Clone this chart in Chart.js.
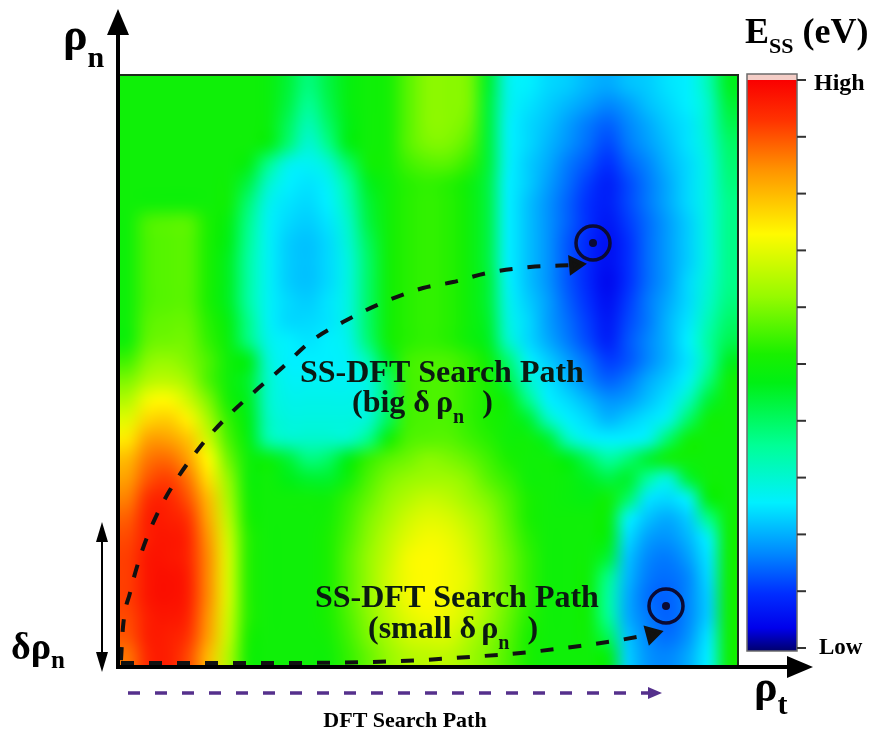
<!DOCTYPE html>
<html>
<head>
<meta charset="utf-8">
<script src="https://cdn.jsdelivr.net/npm/chart.js@4.4.1/dist/chart.umd.min.js"></script>
<style>
  html, body { margin: 0; padding: 0; background: #fff; }
</style>
</head>
<body>
<canvas id="essChart" width="871" height="732"></canvas>
<script>
// E_SS map, in % of the Low..High range.
// One row per grid line, top (large rho_n) to bottom, columns left to right along rho_t.
const nCols = 31, nRows = 30;
const essGrid = [
  [50,50,50,50,50,50,50,49,44,38,43,48,50,51,57,61,61,60,45,28,26,24,23,21,20,22,23,25,26,33,46],
  [50,50,50,50,50,50,50,49,43,36,42,48,50,51,57,61,61,60,44,28,25,23,21,19,17,19,22,24,26,31,44],
  [50,50,50,50,50,50,50,49,41,33,40,47,50,51,57,61,61,59,44,27,24,22,19,16,14,17,20,23,25,31,42],
  [50,50,50,50,50,50,50,48,39,30,37,47,50,51,57,60,60,57,44,27,24,21,18,15,12,16,19,22,25,30,40],
  [50,50,50,50,50,50,48,37,28,27,30,40,50,51,55,57,57,54,44,27,23,20,16,13,10,14,17,21,24,29,39],
  [50,50,50,50,50,50,43,31,26,25,27,35,46,50,53,54,53,50,43,26,23,19,15,11, 8,12,16,20,24,29,38],
  [50,50,50,50,50,50,39,28,25,24,26,33,44,50,53,54,53,50,43,26,22,18,14,10, 8,12,16,20,24,29,37],
  [50,56,57,57,52,48,37,27,24,23,25,31,43,50,53,54,53,50,43,26,22,18,14,10, 7,11,15,19,23,29,37],
  [50,56,57,57,52,47,36,27,23,22,24,30,41,50,53,54,53,50,43,26,22,18,13, 9, 6,10,15,19,23,29,37],
  [50,56,57,57,52,46,35,27,23,22,24,29,40,50,53,54,53,50,43,26,22,18,13, 9, 6,10,15,19,23,29,37],
  [50,56,57,57,52,46,35,27,23,22,24,29,40,50,53,54,53,50,44,27,22,18,13, 9, 5,10,15,19,24,30,37],
  [50,56,57,57,52,46,35,27,24,23,25,29,40,50,53,54,53,50,44,28,23,19,14,10, 6,11,16,20,24,31,38],
  [50,57,58,58,53,48,37,27,24,24,25,29,40,50,53,54,53,50,45,29,24,19,15,11, 7,12,16,21,25,33,40],
  [50,58,59,59,54,49,38,28,26,25,26,28,39,50,53,54,53,50,46,31,24,20,16,12, 8,13,17,21,26,35,42],
  [55,61,62,60,56,50,47,30,26,26,26,27,33,45,55,56,56,54,50,39,27,23,19,15,11,13,17,21,25,34,46],
  [60,65,66,63,56,50,45,31,27,27,27,27,29,40,55,56,56,54,52,43,31,25,21,17,14,16,20,23,27,38,50],
  [65,72,73,68,60,51,46,31,28,28,28,28,29,40,55,56,56,54,52,49,37,26,24,21,18,19,22,25,32,44,50],
  [70,77,78,74,64,54,47,32,29,29,29,29,30,41,55,56,56,54,52,50,45,32,26,24,21,23,25,28,40,50,50],
  [75,83,83,79,68,56,48,34,31,31,31,31,37,50,56,57,57,55,53,50,50,45,32,27,26,26,28,40,50,50,50],
  [80,87,88,83,73,59,50,49,44,38,40,47,54,57,59,61,60,58,55,52,50,50,47,41,35,39,45,50,50,50,50],
  [83,90,92,87,76,62,50,50,47,45,45,50,56,60,62,63,63,61,57,54,50,50,49,46,43,45,35,29,44,50,50],
  [86,94,95,90,80,64,51,50,50,50,50,54,58,62,65,67,66,63,60,56,52,50,49,48,50,40,25,24,27,48,50],
  [89,96,96,93,82,66,52,50,50,50,51,55,60,64,68,70,69,66,62,57,52,50,50,50,49,27,22,20,23,37,50],
  [91,96,97,95,84,68,53,50,50,50,52,56,61,66,70,72,71,68,63,58,53,50,50,50,48,24,19,18,21,27,50],
  [92,97,97,95,85,69,53,50,50,50,52,57,62,67,72,73,72,69,64,59,54,50,50,50,44,22,17,16,19,25,50],
  [92,97,98,96,85,69,53,50,50,50,52,57,62,68,72,73,72,70,64,59,54,50,50,50,37,21,16,15,17,24,50],
  [92,97,98,96,85,69,53,50,50,50,52,57,62,67,72,73,72,69,64,59,54,50,50,50,35,20,15,14,17,23,50],
  [91,96,97,95,84,68,53,50,50,50,52,56,61,66,70,72,71,68,63,58,53,50,50,50,36,20,16,14,17,23,50],
  [90,96,96,93,83,67,52,50,50,50,51,55,60,64,68,69,69,65,61,57,52,50,50,50,41,22,17,15,18,25,50],
  [87,95,96,91,80,65,51,50,50,50,50,54,58,62,65,66,66,63,60,56,52,50,50,50,48,23,18,17,20,26,50]
];

// colour scale, Low (0) to High (1)
const colorStops = [
  [0.00, [0, 0, 110]],
  [0.04, [0, 0, 235]],
  [0.10, [0, 45, 255]],
  [0.17, [0, 135, 255]],
  [0.26, [0, 240, 255]],
  [0.36, [0, 255, 150]],
  [0.47, [0, 240, 20]],
  [0.52, [25, 240, 0]],
  [0.62, [150, 250, 0]],
  [0.73, [255, 250, 0]],
  [0.84, [255, 150, 0]],
  [0.93, [255, 50, 0]],
  [1.00, [250, 0, 0]]
];

// search paths, in grid units (rho_t, rho_n)
const bigPathX = [0.15, 0.25, 0.6, 1.1, 1.75, 2.6, 4.1, 5.45, 6.75, 8.25, 9.6, 11.25, 12.95, 15.25, 16.75, 18.45, 20.6, 22.85];
const bigPathY = [0.30, 1.98, 3.71, 5.53, 7.26, 8.93, 11.12, 12.64, 13.86, 15.18, 16.45, 17.46, 18.32, 19.19, 19.49, 19.95, 20.25, 20.36];
const smallPathX = [0.15, 6.6, 14.1, 17.6, 20.6, 23.1, 25.1, 26.7];
const smallPathY = [0.15, 0.15, 0.25, 0.46, 0.71, 1.02, 1.32, 1.62];
const dftPathX = [0.5, 26.6];
const dftPathY = [-1.37, -1.37];
const minimaX = [23.75, 27.4];
const minimaY = [21.47, 3.05];

const SERIF = '"Liberation Serif", "Times New Roman", serif';
const TEXT_COLOR = '#0b1a12';
const DFT_COLOR = '#55308c';

function colorAt(v) {
  v = Math.max(0, Math.min(1, v));
  for (let i = 1; i < colorStops.length; i++) {
    const [p1, c1] = colorStops[i];
    if (v <= p1) {
      const [p0, c0] = colorStops[i - 1];
      const f = (v - p0) / (p1 - p0);
      return c0.map((a, k) => Math.round(a + (c1[k] - a) * f));
    }
  }
  return colorStops[colorStops.length - 1][1];
}

const toPoints = (xs, ys) => xs.map((v, i) => ({ x: v, y: ys[i] }));

// draws the grid as an image stretched over the scale range
const heatmapPlugin = {
  id: 'essHeatmap',
  beforeDatasetsDraw(chart) {
    const { ctx, scales: { x, y } } = chart;
    const off = document.createElement('canvas');
    off.width = nCols;
    off.height = nRows;
    const octx = off.getContext('2d');
    const img = octx.createImageData(nCols, nRows);
    essGrid.forEach((row, r) => row.forEach((v, c) => {
      const rgb = colorAt(v / 100);
      const i = (r * nCols + c) * 4;
      img.data[i] = rgb[0];
      img.data[i + 1] = rgb[1];
      img.data[i + 2] = rgb[2];
      img.data[i + 3] = 255;
    }));
    octx.putImageData(img, 0, 0);
    const left = x.getPixelForValue(0), right = x.getPixelForValue(nCols);
    const top = y.getPixelForValue(nRows), bottom = y.getPixelForValue(0);
    ctx.save();
    ctx.imageSmoothingEnabled = true;
    ctx.imageSmoothingQuality = 'high';
    ctx.drawImage(off, left, top, right - left, bottom - top);
    ctx.restore();
  }
};

function triangle(ctx, x1, y1, x2, y2, x3, y3) {
  ctx.beginPath();
  ctx.moveTo(x1, y1);
  ctx.lineTo(x2, y2);
  ctx.lineTo(x3, y3);
  ctx.closePath();
  ctx.fill();
}

// text made of pieces with own size / vertical shift (subscripts)
function drawParts(ctx, x, y, parts) {
  parts.forEach(p => {
    if (p.gap) { x += p.gap; return; }
    ctx.font = `bold ${p.size}px ${SERIF}`;
    ctx.fillText(p.t, x, y + (p.dy || 0));
    x += ctx.measureText(p.t).width;
  });
}

const overlayPlugin = {
  id: 'essOverlay',
  afterDraw(chart) {
    const { ctx, chartArea: a, scales } = chart;
    ctx.save();

    // frame top / right
    ctx.strokeStyle = '#1c2b1c';
    ctx.lineWidth = 2;
    ctx.beginPath();
    ctx.moveTo(a.left, a.top);
    ctx.lineTo(a.right, a.top);
    ctx.lineTo(a.right, a.bottom);
    ctx.stroke();

    // axes with arrows
    ctx.strokeStyle = '#000';
    ctx.fillStyle = '#000';
    ctx.lineWidth = 4;
    ctx.beginPath();
    ctx.moveTo(a.left, a.bottom + 3);
    ctx.lineTo(a.left, 32);
    ctx.stroke();
    triangle(ctx, a.left, 9, a.left - 11, 35, a.left + 11, 35);
    ctx.beginPath();
    ctx.moveTo(a.left - 2, a.bottom + 1);
    ctx.lineTo(790, a.bottom + 1);
    ctx.stroke();
    triangle(ctx, 813, a.bottom + 1, 787, a.bottom - 10, 787, a.bottom + 12);

    // delta rho_n double arrow
    ctx.lineWidth = 2;
    ctx.beginPath();
    ctx.moveTo(102, 536);
    ctx.lineTo(102, 658);
    ctx.stroke();
    triangle(ctx, 102, 522, 96, 542, 108, 542);
    triangle(ctx, 102, 672, 96, 652, 108, 652);

    // head of the DFT path (sits below the plot area)
    const ex = scales.x.getPixelForValue(dftPathX[dftPathX.length - 1]);
    const ey = scales.y.getPixelForValue(dftPathY[dftPathY.length - 1]);
    ctx.fillStyle = DFT_COLOR;
    triangle(ctx, ex + 12, ey, ex - 2, ey - 6, ex - 2, ey + 6);

    // colour bar
    const cbL = 747, cbW = 50, cbTop = 74, cbHigh = 80, cbLow = 651;
    const grad = ctx.createLinearGradient(0, cbLow, 0, cbHigh);
    colorStops.forEach(([p, c]) => grad.addColorStop(p, `rgb(${c[0]},${c[1]},${c[2]})`));
    ctx.fillStyle = grad;
    ctx.fillRect(cbL, cbHigh, cbW, cbLow - cbHigh);
    ctx.fillStyle = '#f4cdc6';
    ctx.fillRect(cbL, cbTop, cbW, cbHigh - cbTop);
    ctx.strokeStyle = '#6b6b6b';
    ctx.lineWidth = 1.5;
    ctx.strokeRect(cbL, cbTop, cbW, cbLow - cbTop);
    ctx.strokeStyle = '#333';
    ctx.lineWidth = 2;
    for (let i = 0; i <= 10; i++) {
      const ty = 648 - i * (648 - 80) / 10;
      ctx.beginPath();
      ctx.moveTo(cbL + cbW, ty);
      ctx.lineTo(cbL + cbW + 9, ty);
      ctx.stroke();
    }

    // labels
    ctx.fillStyle = '#000';
    ctx.textBaseline = 'alphabetic';
    drawParts(ctx, 63, 50, [{ t: 'ρ', size: 46 }, { t: 'n', size: 30, dy: 17 }]);
    drawParts(ctx, 754, 701, [{ t: 'ρ', size: 44 }, { t: 't', size: 30, dy: 13 }]);
    drawParts(ctx, 11, 659, [{ t: 'δρ', size: 38 }, { t: 'n', size: 25, dy: 9 }]);
    drawParts(ctx, 745, 43, [{ t: 'E', size: 36 }, { t: 'SS', size: 22, dy: 10 }, { t: ' (eV)', size: 36 }]);
    drawParts(ctx, 814, 90, [{ t: 'High', size: 24 }]);
    drawParts(ctx, 819, 654, [{ t: 'Low', size: 23 }]);
    ctx.textAlign = 'center';
    ctx.font = `bold 22px ${SERIF}`;
    ctx.fillText('DFT Search Path', 405, 727);
    ctx.textAlign = 'left';

    ctx.fillStyle = TEXT_COLOR;
    drawParts(ctx, 300, 382, [{ t: 'SS-DFT Search Path', size: 32 }]);
    drawParts(ctx, 352, 412, [{ t: '(big δ', size: 32 }, { gap: 6 }, { t: 'ρ', size: 32 }, { t: 'n', size: 20, dy: 11 }, { gap: 18 }, { t: ')', size: 32 }]);
    drawParts(ctx, 315, 607, [{ t: 'SS-DFT Search Path', size: 32 }]);
    drawParts(ctx, 368, 638, [{ t: '(small δ', size: 32 }, { gap: 5 }, { t: 'ρ', size: 32 }, { t: 'n', size: 20, dy: 11 }, { gap: 18 }, { t: ')', size: 32 }]);

    ctx.restore();
  }
};

const lastIndexRadius = (len, r) => c => (c.dataIndex === len - 1 ? r : 0);

new Chart(document.getElementById('essChart'), {
  type: 'line',
  data: {
    datasets: [
      {
        label: 'SS-DFT (big step)',
        data: toPoints(bigPathX, bigPathY),
        borderColor: '#111',
        borderWidth: 4,
        borderDash: [13, 15],
        cubicInterpolationMode: 'monotone',
        pointStyle: 'triangle',
        pointRotation: 85,
        pointRadius: lastIndexRadius(bigPathX.length, 8),
        pointBackgroundColor: '#111',
        pointBorderColor: '#111',
        clip: false
      },
      {
        label: 'SS-DFT (small step)',
        data: toPoints(smallPathX, smallPathY),
        borderColor: '#111',
        borderWidth: 4,
        borderDash: [13, 15],
        cubicInterpolationMode: 'monotone',
        pointStyle: 'triangle',
        pointRotation: 75,
        pointRadius: lastIndexRadius(smallPathX.length, 8),
        pointBackgroundColor: '#111',
        pointBorderColor: '#111',
        clip: false
      },
      {
        label: 'DFT',
        data: toPoints(dftPathX, dftPathY),
        borderColor: DFT_COLOR,
        borderWidth: 3.5,
        borderDash: [12, 15],
        pointRadius: 0,
        clip: false
      },
      {
        type: 'scatter',
        label: 'minima ring',
        data: toPoints(minimaX, minimaY),
        pointRadius: 17,
        pointBorderWidth: 3.5,
        pointBorderColor: '#0b0b35',
        pointBackgroundColor: 'rgba(0,0,0,0)',
        clip: false
      },
      {
        type: 'scatter',
        label: 'minima',
        data: toPoints(minimaX, minimaY),
        pointRadius: 4,
        pointBorderWidth: 0,
        pointBackgroundColor: '#0b0b35',
        clip: false
      }
    ]
  },
  options: {
    responsive: false,
    animation: false,
    devicePixelRatio: 1,
    layout: { padding: { left: 118, top: 75, right: 133, bottom: 66 } },
    scales: {
      x: { type: 'linear', min: 0, max: nCols, display: false },
      y: { type: 'linear', min: 0, max: nRows, display: false }
    },
    plugins: {
      legend: { display: false },
      tooltip: { enabled: false }
    }
  },
  plugins: [heatmapPlugin, overlayPlugin]
});
</script>
</body>
</html>
